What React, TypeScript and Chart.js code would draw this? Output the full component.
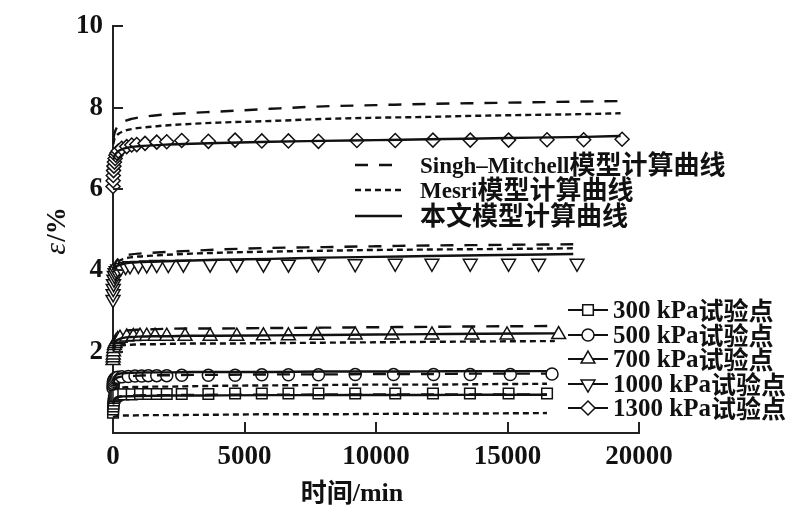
import React, { useEffect, useRef } from 'react';
import { Chart, registerables } from 'chart.js';

Chart.register(...registerables);

// ---------- axis ticks ----------
const xTicks = [0, 5000, 10000, 15000, 20000];
const yTicks = [0, 2, 4, 6, 8, 10];

// ---------- model curves (time in min, strain in %) ----------
const curveT300 = [10, 50, 100, 200, 400, 700, 1000, 1500, 2000, 3000, 4000, 6000, 8000, 10000, 12000, 14000, 16500];
const solid300 = [0.7, 0.8, 0.85, 0.88, 0.9, 0.905, 0.91, 0.915, 0.92, 0.92, 0.925, 0.93, 0.93, 0.935, 0.935, 0.94, 0.94];
const singh300 = [0.72, 0.82, 0.86, 0.89, 0.91, 0.92, 0.925, 0.93, 0.93, 0.935, 0.94, 0.94, 0.945, 0.945, 0.95, 0.95, 0.95];
const mesri300 = [0.38, 0.4, 0.41, 0.42, 0.43, 0.43, 0.435, 0.44, 0.44, 0.445, 0.45, 0.46, 0.46, 0.47, 0.475, 0.48, 0.49];

const curveT500 = [10, 50, 100, 200, 400, 700, 1000, 1500, 2000, 3000, 4000, 6000, 8000, 10000, 12000, 14000, 16500];
const solid500 = [1.3, 1.38, 1.42, 1.45, 1.47, 1.48, 1.485, 1.49, 1.49, 1.5, 1.5, 1.5, 1.51, 1.51, 1.515, 1.52, 1.52];
const singh500 = [1.2, 1.3, 1.34, 1.37, 1.39, 1.4, 1.41, 1.42, 1.42, 1.43, 1.43, 1.44, 1.44, 1.45, 1.45, 1.46, 1.46];
const mesri500 = [1.05, 1.09, 1.1, 1.11, 1.12, 1.13, 1.13, 1.14, 1.14, 1.15, 1.16, 1.17, 1.18, 1.19, 1.19, 1.2, 1.21];

const curveT700 = [10, 50, 100, 200, 400, 700, 1000, 1500, 2000, 3000, 4000, 6000, 8000, 10000, 12000, 14000, 16800];
const solid700 = [2.05, 2.18, 2.25, 2.3, 2.34, 2.36, 2.37, 2.38, 2.38, 2.39, 2.39, 2.4, 2.41, 2.42, 2.43, 2.44, 2.45];
const singh700 = [2.1, 2.3, 2.38, 2.44, 2.5, 2.53, 2.54, 2.55, 2.56, 2.57, 2.57, 2.58, 2.59, 2.6, 2.61, 2.62, 2.63];
const mesri700 = [2.0, 2.08, 2.12, 2.14, 2.16, 2.17, 2.18, 2.18, 2.19, 2.2, 2.2, 2.21, 2.22, 2.23, 2.24, 2.25, 2.26];

const curveT1000 = [10, 50, 100, 200, 400, 700, 1000, 1500, 2000, 3000, 4000, 6000, 8000, 10000, 12000, 14000, 17500];
const solid1000 = [3.95, 4.02, 4.07, 4.12, 4.16, 4.19, 4.2, 4.21, 4.22, 4.24, 4.26, 4.28, 4.31, 4.33, 4.35, 4.37, 4.4];
const singh1000 = [4.0, 4.12, 4.2, 4.28, 4.35, 4.39, 4.41, 4.43, 4.45, 4.48, 4.51, 4.55, 4.57, 4.59, 4.61, 4.62, 4.64];
const mesri1000 = [4.0, 4.1, 4.15, 4.22, 4.28, 4.32, 4.34, 4.36, 4.38, 4.41, 4.43, 4.46, 4.48, 4.5, 4.51, 4.52, 4.54];

const curveT1300 = [10, 50, 100, 200, 400, 700, 1000, 1500, 2000, 3000, 4000, 6000, 8000, 10000, 12000, 14000, 16000, 18000, 19300];
const solid1300 = [6.72, 6.8, 6.86, 6.93, 6.99, 7.03, 7.05, 7.07, 7.09, 7.11, 7.13, 7.16, 7.18, 7.2, 7.22, 7.24, 7.26, 7.28, 7.3];
const singh1300 = [7.2, 7.35, 7.45, 7.55, 7.65, 7.72, 7.76, 7.8, 7.83, 7.87, 7.9, 7.97, 8.03, 8.06, 8.09, 8.11, 8.13, 8.15, 8.16];
const mesri1300 = [7.1, 7.22, 7.28, 7.35, 7.42, 7.47, 7.5, 7.53, 7.56, 7.6, 7.63, 7.67, 7.72, 7.75, 7.77, 7.8, 7.82, 7.84, 7.86];

// ---------- test points ----------
const times300 = [1, 5, 10, 20, 35, 55, 85, 130, 200, 392, 712, 1027, 1343, 1663, 2043, 2614, 3626, 4642, 5658, 6670, 7812, 9209, 10731, 12165, 13571, 15041, 16503];
const vals300 = [0.5, 0.58, 0.65, 0.72, 0.8, 0.86, 0.9, 0.92, 0.94, 0.95, 0.95, 0.96, 0.96, 0.96, 0.96, 0.96, 0.96, 0.97, 0.97, 0.97, 0.97, 0.97, 0.97, 0.97, 0.97, 0.97, 0.97];

const times500 = [1, 5, 10, 20, 40, 76, 120, 180, 331, 582, 837, 1092, 1343, 1663, 2043, 2614, 3626, 4642, 5658, 6670, 7812, 9209, 10666, 12188, 13584, 15107, 16693];
const vals500 = [1.1, 1.17, 1.22, 1.27, 1.31, 1.34, 1.36, 1.37, 1.38, 1.39, 1.4, 1.4, 1.41, 1.41, 1.41, 1.42, 1.42, 1.42, 1.43, 1.43, 1.43, 1.44, 1.44, 1.44, 1.44, 1.44, 1.45];

const times700 = [1, 5, 10, 20, 35, 55, 80, 120, 180, 266, 521, 772, 1027, 1282, 1598, 2043, 2740, 3691, 4707, 5719, 6670, 7751, 9209, 10605, 12127, 13649, 14981, 16945];
const vals700 = [1.78, 1.85, 1.92, 2.0, 2.08, 2.15, 2.2, 2.25, 2.3, 2.33, 2.36, 2.37, 2.38, 2.38, 2.38, 2.38, 2.38, 2.38, 2.38, 2.39, 2.39, 2.4, 2.41, 2.41, 2.41, 2.41, 2.41, 2.42];

const times1000 = [1, 5, 10, 20, 35, 55, 80, 120, 180, 300, 480, 647, 963, 1282, 1663, 2104, 2675, 3691, 4707, 5719, 6670, 7812, 9209, 10731, 12127, 13584, 15042, 16183, 17644];
const vals1000 = [3.28, 3.42, 3.55, 3.67, 3.78, 3.87, 3.94, 3.99, 4.03, 4.06, 4.09, 4.11, 4.12, 4.13, 4.14, 4.14, 4.15, 4.15, 4.15, 4.15, 4.15, 4.16, 4.16, 4.17, 4.17, 4.17, 4.17, 4.17, 4.17];

const times1300 = [1, 5, 10, 20, 35, 55, 80, 110, 150, 200, 331, 521, 712, 902, 1218, 1663, 2043, 2614, 3626, 4642, 5658, 6670, 7812, 9273, 10731, 12165, 13584, 15041, 16503, 17896, 19357];
const vals1300 = [6.06, 6.2, 6.33, 6.45, 6.56, 6.66, 6.75, 6.83, 6.88, 6.93, 7.0, 7.04, 7.08, 7.09, 7.12, 7.15, 7.16, 7.19, 7.17, 7.2, 7.18, 7.18, 7.17, 7.19, 7.19, 7.2, 7.2, 7.2, 7.21, 7.21, 7.22];

// ---------- labels ----------
const modelLabels = ['Singh–Mitchell模型计算曲线', 'Mesri模型计算曲线', '本文模型计算曲线'];
const pointLabels = ['300 kPa试验点', '500 kPa试验点', '700 kPa试验点', '1000 kPa试验点', '1300 kPa试验点'];
const pointStyles = ['rect', 'circle', 'triangle', 'triangleDown', 'rectRot'];
const xTitle = '时间/min';

const INK = '#111';
const LATIN = '"Liberation Serif", "Times New Roman", serif';
const CJK = '"Noto Sans CJK SC", sans-serif';
const DASH_SINGH = [13, 11];
const DASH_MESRI = [6, 4];
const MARKER_R: Record<string, number> = { rect: 7.5, circle: 6, triangle: 8, triangleDown: 8, rectRot: 7 };

const pts = (t: number[], v: number[]) => t.map((x, i) => ({ x, y: v[i] }));

function drawMarker(ctx: CanvasRenderingContext2D, style: string, x: number, y: number, r: number) {
  ctx.beginPath();
  if (style === 'circle') {
    ctx.arc(x, y, r, 0, Math.PI * 2);
  } else if (style === 'rect') {
    const s = r * Math.SQRT1_2;
    ctx.rect(x - s, y - s, 2 * s, 2 * s);
  } else if (style === 'rectRot') {
    ctx.moveTo(x - r, y);
    ctx.lineTo(x, y - r);
    ctx.lineTo(x + r, y);
    ctx.lineTo(x, y + r);
    ctx.closePath();
  } else {
    const base = style === 'triangle' ? 0 : Math.PI;
    for (let k = 0; k < 3; k++) {
      const a = base + (k * 2 * Math.PI) / 3;
      const px = x + Math.sin(a) * r;
      const py = y - Math.cos(a) * r;
      if (k === 0) ctx.moveTo(px, py);
      else ctx.lineTo(px, py);
    }
    ctx.closePath();
  }
  ctx.fillStyle = '#fff';
  ctx.fill();
  ctx.lineWidth = 1.5;
  ctx.strokeStyle = INK;
  ctx.stroke();
}

function splitRuns(text: string) {
  return text.match(/[\u3000-\u9fff]+|[^\u3000-\u9fff]+/g) || [];
}
const isCjk = (s: string) => /[\u3000-\u9fff]/.test(s);

function measureMixed(ctx: CanvasRenderingContext2D, text: string, latin: number, cjk: number) {
  let w = 0;
  for (const r of splitRuns(text)) {
    ctx.font = isCjk(r) ? `bold ${cjk}px ${CJK}` : `bold ${latin}px ${LATIN}`;
    w += ctx.measureText(r).width;
  }
  return w;
}

// y is the visual centre line of the text; runs share an alphabetic baseline
function drawMixed(ctx: CanvasRenderingContext2D, text: string, x: number, y: number, latin: number, cjk: number) {
  let cx = x;
  ctx.textAlign = 'left';
  ctx.textBaseline = 'alphabetic';
  ctx.fillStyle = INK;
  const base = y + latin * 0.33;
  for (const r of splitRuns(text)) {
    ctx.font = isCjk(r) ? `bold ${cjk}px ${CJK}` : `bold ${latin}px ${LATIN}`;
    ctx.fillText(r, cx, isCjk(r) ? base + cjk * 0.06 : base);
    cx += ctx.measureText(r).width;
  }
}

const decorPlugin = {
  id: 'decor',
  afterDraw(chart: any) {
    const ctx: CanvasRenderingContext2D = chart.ctx;
    const xs = chart.scales.x;
    const ys = chart.scales.y;
    const area = chart.chartArea;
    ctx.save();
    // inward tick marks
    ctx.strokeStyle = '#222';
    ctx.lineWidth = 2;
    ctx.beginPath();
    for (const v of xTicks) {
      if (v === 0) continue;
      const px = Math.round(xs.getPixelForValue(v));
      ctx.moveTo(px, area.bottom);
      ctx.lineTo(px, area.bottom - 11);
    }
    for (const v of yTicks) {
      if (v === 0) continue;
      const py = Math.round(ys.getPixelForValue(v));
      ctx.moveTo(area.left, py);
      ctx.lineTo(area.left + 10, py);
    }
    ctx.stroke();

    // y title  "ε/%"
    ctx.save();
    ctx.translate(56, 231);
    ctx.rotate(-Math.PI / 2);
    ctx.textBaseline = 'alphabetic';
    ctx.textAlign = 'left';
    ctx.fillStyle = INK;
    ctx.font = `italic 30px ${LATIN}`;
    const wE = ctx.measureText('ε').width;
    ctx.font = `bold 27px ${LATIN}`;
    const wR = ctx.measureText('/%').width;
    const start = -(wE + wR + 1) / 2;
    ctx.font = `italic 30px ${LATIN}`;
    ctx.fillText('ε', start, 9);
    ctx.font = `bold 27px ${LATIN}`;
    ctx.fillText('/%', start + wE + 1, 9);
    ctx.restore();

    // x title
    const wx = measureMixed(ctx, xTitle, 26, 26);
    drawMixed(ctx, xTitle, 352 - wx / 2, 492, 26, 26);

    // model legend
    const legY = [165, 190, 216];
    const dashes = [DASH_SINGH, DASH_MESRI, []];
    modelLabels.forEach((lab, i) => {
      ctx.beginPath();
      ctx.setLineDash(dashes[i]);
      ctx.lineWidth = 2.4;
      ctx.strokeStyle = INK;
      ctx.moveTo(355, legY[i]);
      ctx.lineTo(402, legY[i]);
      ctx.stroke();
      ctx.setLineDash([]);
      drawMixed(ctx, lab, 420, legY[i], 23, 26);
    });

    // test point legend
    const pY = [310, 335, 359, 384, 408];
    pointLabels.forEach((lab, i) => {
      ctx.beginPath();
      ctx.lineWidth = 2;
      ctx.strokeStyle = INK;
      ctx.moveTo(568, pY[i]);
      ctx.lineTo(608, pY[i]);
      ctx.stroke();
      const st = pointStyles[i];
      drawMarker(ctx, st, 588, pY[i], MARKER_R[st]);
      drawMixed(ctx, lab, 613, pY[i], 25, 25);
    });
    ctx.restore();
  },
};

function lineDs(t: number[], v: number[], dash: number[]) {
  return {
    data: pts(t, v),
    showLine: true,
    borderColor: INK,
    borderWidth: 2.4,
    borderDash: dash,
    pointRadius: 0,
    pointHoverRadius: 0,
    cubicInterpolationMode: 'monotone',
    fill: false,
    clip: false,
    order: 0,
  };
}

function pointDs(t: number[], v: number[], style: string) {
  const down = style === 'triangleDown';
  return {
    data: pts(t, v),
    showLine: false,
    pointStyle: down ? 'triangle' : style,
    rotation: down ? 180 : 0,
    pointRotation: down ? 180 : 0,
    pointRadius: MARKER_R[style],
    pointBorderWidth: 1.5,
    pointBorderColor: INK,
    pointBackgroundColor: '#fff',
    clip: false,
    order: 1,
  };
}

export default function App() {
  const ref = useRef<HTMLCanvasElement | null>(null);
  useEffect(() => {
    if (!ref.current) return;
    const tickFont = { family: LATIN, size: 27, weight: 'bold' as const };
    const chart = new Chart(ref.current, {
      type: 'scatter',
      data: {
        datasets: [
          pointDs(times300, vals300, 'rect'),
          pointDs(times500, vals500, 'circle'),
          pointDs(times700, vals700, 'triangle'),
          pointDs(times1000, vals1000, 'triangleDown'),
          pointDs(times1300, vals1300, 'rectRot'),
          lineDs(curveT300, singh300, DASH_SINGH),
          lineDs(curveT300, mesri300, DASH_MESRI),
          lineDs(curveT300, solid300, []),
          lineDs(curveT500, singh500, DASH_SINGH),
          lineDs(curveT500, mesri500, DASH_MESRI),
          lineDs(curveT500, solid500, []),
          lineDs(curveT700, singh700, DASH_SINGH),
          lineDs(curveT700, mesri700, DASH_MESRI),
          lineDs(curveT700, solid700, []),
          lineDs(curveT1000, singh1000, DASH_SINGH),
          lineDs(curveT1000, mesri1000, DASH_MESRI),
          lineDs(curveT1000, solid1000, []),
          lineDs(curveT1300, singh1300, DASH_SINGH),
          lineDs(curveT1300, mesri1300, DASH_MESRI),
          lineDs(curveT1300, solid1300, []),
        ] as any,
      },
      options: {
        animation: false,
        responsive: false,
        maintainAspectRatio: false,
        layout: { padding: { top: 19, right: 162, bottom: 0, left: 0 } },
        plugins: { legend: { display: false }, tooltip: { enabled: false } },
        events: [],
        scales: {
          x: {
            type: 'linear',
            min: 0,
            max: 20000,
            afterBuildTicks: (s: any) => {
              s.ticks = xTicks.map((v) => ({ value: v }));
            },
            afterFit: (s: any) => {
              s.height = 80;
            },
            grid: { display: false, drawTicks: false },
            border: { display: true, color: '#222', width: 2 },
            ticks: {
              font: tickFont,
              color: INK,
              padding: 8,
              maxRotation: 0,
              autoSkip: false,
              callback: (v: any) => String(v),
            },
          },
          y: {
            type: 'linear',
            min: 0,
            max: 10,
            afterBuildTicks: (s: any) => {
              s.ticks = yTicks.map((v) => ({ value: v }));
            },
            afterFit: (s: any) => {
              s.width = 113;
            },
            grid: { display: false, drawTicks: false },
            border: { display: true, color: '#222', width: 2 },
            ticks: {
              font: tickFont,
              color: INK,
              padding: 10,
              autoSkip: false,
              callback: (v: any) => (Number(v) === 0 ? '' : String(v)),
            },
          },
        },
      } as any,
      plugins: [decorPlugin],
    });
    return () => chart.destroy();
  }, []);
  return (
    <div style={{ position: 'absolute', left: 0, top: 0, width: 801, height: 513, background: '#fff' }}>
      <canvas ref={ref} width={801} height={513} style={{ width: 801, height: 513, display: 'block' }} />
    </div>
  );
}
